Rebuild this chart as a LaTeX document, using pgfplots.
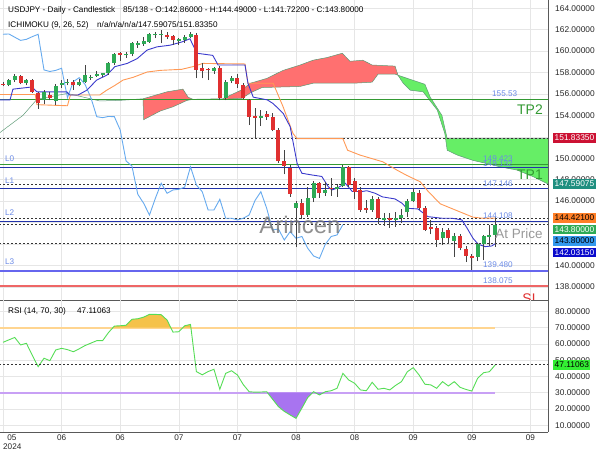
\documentclass[border=0pt]{standalone}
\usepackage{pgfplots}
\pgfplotsset{compat=1.18}
\usepackage{pgfplotstable}
\usepgfplotslibrary{fillbetween}
\usepackage{fontspec}
\setmainfont{Liberation Sans}
\newcommand{\fs}[1]{\fontsize{#1}{#1}\selectfont}
\pagecolor{white}

\definecolor{cgreen}{HTML}{2EAA55}
\definecolor{cred}{HTML}{E03030}
\definecolor{cwick}{HTML}{444444}
\definecolor{tenkan}{HTML}{3A3ACC}
\definecolor{kijun}{HTML}{FF9955}
\definecolor{chikou}{HTML}{66AAEE}
\definecolor{cloudred}{HTML}{FF7070}
\definecolor{cloudgreen}{HTML}{66EE66}
\definecolor{cloudedge}{HTML}{5E9A76}
\definecolor{tpgreen}{HTML}{339933}
\definecolor{lblue}{HTML}{2233AA}
\definecolor{lthree}{HTML}{6666EE}
\definecolor{slred}{HTML}{EE6666}
\definecolor{lbltext}{HTML}{6A8AE6}
\definecolor{gridc}{HTML}{E6E6E6}
\definecolor{rsigreen}{HTML}{55DD55}
\definecolor{obline}{HTML}{FFD590}
\definecolor{osline}{HTML}{C8A0F5}
\definecolor{obfill}{HTML}{F5C24A}
\definecolor{osfill}{HTML}{A874F0}
\definecolor{bA}{HTML}{CC1133}
\definecolor{bB}{HTML}{1F8F80}
\definecolor{bC}{HTML}{FF7F27}
\definecolor{bD}{HTML}{2EAA55}
\definecolor{bE}{HTML}{3399EE}
\definecolor{bF}{HTML}{0A0ACC}
\definecolor{bG}{HTML}{33EE33}

\pgfplotstableread{
i o h l c
1 156.85 157.4 156.7 157.3
2 157.3 157.9 157.1 157.7
4 157.0 157.4 156.8 157.3
7 155.4 156.4 155.1 156.2
9 155.3 156.9 155.0 156.7
10 156.85 157.3 156.6 157.0
11 157.0 157.4 156.8 157.1
13 156.85 157.4 156.7 157.15
14 157.15 158.7 157.0 157.8
15 157.47 157.8 157.3 157.6
16 157.7 158.1 157.6 157.9
17 157.77 158.0 157.6 157.93
18 157.93 159.0 157.8 158.87
19 158.87 159.8 158.7 159.7
21 159.6 159.9 159.4 159.7
22 159.7 160.85 159.5 160.73
23 160.6 160.9 160.3 160.73
24 160.7 161.3 160.5 160.9
25 160.88 161.7 160.8 161.57
26 161.5 161.75 161.2 161.57
27 161.55 162.0 160.73 161.6
30 160.9 161.2 160.6 161.1
31 161.04 161.5 160.8 161.35
32 161.35 161.8 161.2 161.57
36 158.15 158.5 157.9 158.4
38 155.65 157.3 155.4 157.15
39 157.2 157.7 157.0 157.52
44 153.79 154.5 153.0 153.9
50 145.4 146.0 141.7 145.8
52 144.7 147.3 144.5 146.26
53 146.26 147.9 145.9 147.67
55 146.8 147.8 146.5 147.04
57 147.1 147.6 146.4 147.3
58 147.4 149.4 147.3 149.2
63 145.17 146.5 145.0 146.17
65 144.24 144.9 143.7 144.4
67 144.24 145.0 143.6 144.4
68 144.4 145.3 144.0 144.7
69 144.95 146.2 144.5 146.05
70 146.05 147.2 145.9 146.88
75 142.53 143.5 141.9 143.15
77 142.28 143.0 140.8 142.7
81 140.8 142.1 140.4 141.97
82 141.97 142.8 140.5 142.7
83 142.65 143.8 141.8 142.84
84 142.86 144.49 141.722 143.8
}\bull

\pgfplotstableread{
i o h l c
0 156.95 157.1 156.7 156.85
3 157.65 157.8 156.9 157.0
5 157.3 157.4 156.1 156.2
6 156.05 156.2 154.6 155.15
8 155.9 156.2 155.4 155.6
12 157.15 157.3 156.4 156.85
20 159.8 159.95 159.1 159.64
28 161.5 161.8 161.1 161.3
29 161.4 161.5 160.6 161.0
33 161.5 161.7 157.45 158.24
34 158.4 158.87 157.45 158.1
35 158.3 158.4 157.3 158.2
37 158.4 158.6 155.4 155.65
40 157.47 157.9 156.6 156.9
41 156.84 157.0 155.5 155.65
42 155.44 155.5 153.1 153.88
43 153.95 154.67 151.9 153.79
45 154.1 154.4 153.6 153.88
46 153.83 154.2 152.5 152.64
47 152.64 152.8 149.6 149.75
48 149.75 150.77 148.5 149.28
49 149.07 149.4 146.4 146.64
51 145.8 146.2 144.3 144.7
54 147.67 147.8 146.3 146.73
56 147.15 148.2 146.5 147.1
59 149.2 149.3 147.3 147.5
60 147.9 148.2 146.2 146.88
61 147.04 147.3 145.0 145.17
62 145.33 146.1 144.9 145.17
64 146.17 146.4 143.9 144.4
66 144.4 144.9 143.5 144.24
71 146.73 147.0 145.2 145.33
72 145.33 145.5 143.2 143.3
73 143.6 144.2 142.9 143.4
74 143.47 143.7 141.75 142.37
76 143.3 143.5 142.0 142.53
78 142.7 142.9 141.4 141.6
79 141.5 141.8 140.3 140.88
80 140.9 141.1 139.6 140.65
}\bear

\pgfplotstableread{
i v
-0.5 152.4
0.7 152.9
3.4 154.0
5.8 155.5
11.0 156.05
16.5 155.35
20.0 155.4
23.9 155.55
28.0 156.2
30.7 156.45
31.6 155.7
32.4 155.5
37.5 155.55
40.8 156.4
42.2 157.0
45.0 157.45
47.8 158.2
50.7 158.7
52.9 159.15
55.3 159.4
57.9 159.8
59.2 159.05
61.4 159.15
63.0 158.7
66.9 158.6
67.4 157.75
68.3 157.0
69.5 156.35
71.7 156.2
72.4 155.7
74.1 154.5
75.4 152.3
75.8 150.75
77.5 150.3
80.2 149.8
82.6 149.5
84.8 149.2
87.7 148.9
90.4 148.3
93.0 147.6
}\senkouA

\pgfplotstableread{
i v
-0.5 155.5
23.9 155.5
24.0 153.6
26.8 154.4
29.0 154.8
31.4 155.4
32.4 155.5
37.5 155.5
40.8 155.6
42.2 156.1
44.2 156.6
50.7 156.7
52.9 157.0
59.7 157.0
63.0 157.1
64.0 157.85
66.9 157.85
67.4 157.75
72.0 156.9
72.9 155.7
74.9 154.0
75.8 151.83
93.0 151.83
}\senkouB

\pgfplotstableread{
i v
-0.5 155.45
1.2 155.45
1.7 156.45
4.9 156.65
5.8 156.2
10.9 156.2
11.4 155.9
12.8 155.9
14.3 156.35
16.0 157.3
17.7 157.75
19.1 158.55
21.2 158.85
22.9 159.3
24.6 160.1
26.3 160.4
28.5 160.55
30.5 160.85
31.9 161.15
33.1 159.8
35.8 159.6
36.7 158.7
41.3 158.7
41.8 157.0
42.7 155.7
45.1 155.45
46.1 155.1
47.8 154.2
49.0 152.95
50.2 149.5
51.0 148.6
52.7 148.44
54.4 148.3
55.5 147.35
56.1 147.04
57.0 147.2
58.4 147.67
59.6 146.9
61.3 146.9
62.1 146.97
63.5 146.73
64.7 146.4
66.9 146.2
68.1 145.8
68.9 145.33
70.8 145.27
72.5 144.55
74.9 144.4
76.6 144.4
78.3 144.25
79.2 143.47
80.2 142.53
81.1 141.97
82.3 141.75
83.4 141.81
84.0 142.03
}\tenkan

\pgfplotstableread{
i v
-0.5 155.95
5.5 155.95
5.8 155.0
11.0 154.9
11.5 155.9
16.5 155.9
17.7 156.35
19.1 156.8
20.5 157.3
22.2 157.55
24.6 158.05
26.8 158.2
30.5 158.3
32.4 158.55
34.1 158.85
41.3 158.8
41.8 157.0
46.1 157.0
47.8 154.8
49.5 152.3
50.2 151.83
58.0 151.83
58.8 150.75
60.9 150.3
64.8 149.67
67.2 148.9
68.9 148.4
71.2 147.8
72.4 147.0
74.6 145.75
77.5 145.1
80.2 144.5
81.9 144.4
84.0 144.42
}\kijun

\pgfplotstableread{
i v
0 161.57
1 161.6
2 161.3
3 161.0
4 161.1
5 161.35
6 161.57
7 158.24
8 158.1
9 158.2
10 158.4
11 155.65
12 157.15
13 157.52
14 156.9
15 155.65
16 153.88
17 153.79
18 153.9
19 153.88
20 152.64
21 149.75
22 149.28
23 146.64
24 145.8
25 144.7
26 146.26
27 147.67
28 146.73
29 147.04
30 147.1
31 147.3
32 149.2
33 147.5
34 146.88
35 145.17
36 145.17
37 146.17
38 144.4
39 144.4
40 144.24
41 144.4
42 144.7
43 146.05
44 146.88
45 145.33
46 143.3
47 143.4
48 142.37
49 143.15
50 142.53
51 142.7
52 141.6
53 140.88
54 140.65
55 141.97
56 142.7
57 142.84
58 143.8
}\chikou

\pgfplotstableread{
i r
0 61.0
1 62.5
2 64.0
3 59.4
4 60.4
5 53
6 46
7 51.2
8 49.7
9 56.3
10 57.3
11 56.5
12 55.2
13 57
14 59
15 60.5
16 62
17 62
18 67
19 71
20 71.2
21 71.5
22 75.2
23 75.5
24 76.5
25 78.2
26 78.2
27 78.0
28 74.7
29 67.3
30 67.5
31 71.2
32 72
33 43
34 41
35 43
36 44.4
37 32.1
38 41.9
39 43.5
40 40.9
41 35
42 30.6
43 30.3
44 30.4
45 30.6
46 26
47 21.4
48 18.5
49 16.3
50 14.2
51 20.5
52 27
53 30.6
54 28.6
55 30.6
56 31.2
57 32.7
58 41.9
59 37.8
60 35.8
61 31.7
62 31.2
63 36.4
64 32.1
65 32.7
66 31.7
67 34.5
68 36.8
69 42.9
70 45.4
71 40.9
72 35.2
73 34.8
74 32.7
75 36.8
76 34.1
77 36.8
78 33.3
79 32
80 31
81 38.9
82 42.3
83 42.9
84 47.11
}\rsi

\begin{document}
\begin{tikzpicture}

% ---------------- main price panel ----------------
\begin{axis}[
  at={(0,150bp)}, anchor=south west, scale only axis,
  width=548bp, height=300bp,
  xmin=-0.51, xmax=93.0, ymin=136.77, ymax=164.77,
  axis x line=bottom, axis y line=right,
  axis line style={-, draw=black!65, line width=0.8bp},
  xtick={0,10,...,90}, xticklabels={},
  ytick={138,140,...,164},
  yticklabels={138.00000,140.00000,{},{},146.00000,148.00000,150.00000,152.00000,154.00000,156.00000,158.00000,160.00000,162.00000,164.00000},
  yticklabel style={font=\fs{8.4}, anchor=west, inner sep=0pt, xshift=7bp, text=black!85},
  major tick length=0pt,
  grid=major, major grid style={draw=gridc, line width=0.6bp},
]
% cloud (coloured regions)
\addplot[name path=a2, draw=none, forget plot, restrict x to domain=23.85:67.45] table[x=i, y=v] {\senkouA};
\addplot[name path=b2, draw=none, forget plot, restrict x to domain=23.85:67.45] table[x=i, y=v] {\senkouB};
\addplot[fill=cloudred, draw=none, forget plot] fill between[of=a2 and b2];
\addplot[name path=a3, draw=none, forget plot, restrict x to domain=67.35:94] table[x=i, y=v] {\senkouA};
\addplot[name path=b3, draw=none, forget plot, restrict x to domain=67.35:94] table[x=i, y=v] {\senkouB};
\addplot[fill=cloudgreen, draw=none, forget plot] fill between[of=a3 and b3];
\addplot[draw=cloudedge, line width=0.5bp, forget plot] table[x=i, y=v] {\senkouA};
\addplot[draw=cloudedge, line width=0.5bp, forget plot] table[x=i, y=v] {\senkouB};

% level lines
\addplot[tpgreen, line width=0.9bp, forget plot] coordinates {(-0.6,155.53) (93.1,155.53)};
\addplot[tpgreen, line width=0.9bp, forget plot] coordinates {(-0.6,149.423) (93.1,149.423)};
\addplot[lblue, line width=0.9bp, forget plot] coordinates {(-0.6,149.132) (93.1,149.132)};
\addplot[lblue, line width=0.9bp, forget plot] coordinates {(-0.6,147.146) (93.1,147.146)};
\addplot[lblue, line width=0.9bp, forget plot] coordinates {(-0.6,144.108) (93.1,144.108)};
\addplot[lthree, line width=1.2bp, forget plot] coordinates {(-0.6,139.48) (93.1,139.48)};
\addplot[slred, line width=1.2bp, forget plot] coordinates {(-0.6,138.075) (93.1,138.075)};
% dotted price lines
\addplot[black!80, line width=0.8bp, dash pattern=on 2bp off 2bp, forget plot] coordinates {(-0.6,151.8335) (93.1,151.8335)};
\addplot[black!80, line width=0.8bp, dash pattern=on 2bp off 2bp, forget plot] coordinates {(-0.6,147.59075) (93.1,147.59075)};
\addplot[black!80, line width=0.8bp, dash pattern=on 2bp off 2bp, forget plot] coordinates {(-0.6,144.421) (93.1,144.421)};
\addplot[black!80, line width=0.8bp, dash pattern=on 2bp off 2bp, forget plot] coordinates {(-0.6,143.8) (93.1,143.8)};
\addplot[black!80, line width=0.8bp, dash pattern=on 2bp off 2bp, forget plot] coordinates {(-0.6,142.0315) (93.1,142.0315)};

% ichimoku lines
\addplot[chikou, line width=0.9bp, forget plot] table[x=i, y=v] {\chikou};
\addplot[kijun, line width=0.9bp, forget plot] table[x=i, y=v] {\kijun};
\addplot[tenkan, line width=0.9bp, forget plot] table[x=i, y=v] {\tenkan};

% candles: wicks (low to high)
\addplot[-, draw=cwick, line width=0.8bp, forget plot,
  quiver={u=0, v=\thisrow{h}-\thisrow{l}}] table[x=i, y=l] {\bull};
\addplot[-, draw=cwick, line width=0.8bp, forget plot,
  quiver={u=0, v=\thisrow{h}-\thisrow{l}}] table[x=i, y=l] {\bear};
% candles: bodies (open to close)
\addplot[-, draw=cgreen, line width=4bp, forget plot,
  quiver={u=0, v={max(\thisrow{c}-\thisrow{o},0.08)}}] table[x=i, y=o] {\bull};
\addplot[-, draw=cred, line width=4bp, forget plot,
  quiver={u=0, v={max(\thisrow{o}-\thisrow{c},0.08)}}] table[x=i, y=c] {\bear};
\end{axis}

% texts in the price panel
\node[anchor=west, font=\fs{8.2}, inner sep=0pt] at (8bp,440bp) {USDJPY - Daily - Candlestick};
\node[anchor=west, font=\fs{8.2}, inner sep=0pt] at (123bp,440bp) {85/138 - O:142.86000 - H:144.49000 - L:141.72200 - C:143.80000};
\node[anchor=west, font=\fs{8.2}, inner sep=0pt] at (8bp,425bp) {ICHIMOKU (9, 26, 52)};
\node[anchor=west, font=\fs{8.2}, inner sep=0pt] at (97bp,425bp) {n/a/n/a/n/a/147.59075/151.83350};

\node[font=\fs{24}, text=black!55, opacity=0.8, inner sep=0pt] at (300bp,225bp) {Arincen};
\node[font=\fs{13.5}, text=black!40, inner sep=0pt] at (519bp,216.5bp) {At Price};

\node[anchor=west, font=\fs{8.2}, text=lbltext, inner sep=0pt] at (492bp,356bp) {155.53};
\node[anchor=west, font=\fs{8.2}, text=lbltext, inner sep=0pt] at (483bp,291.5bp) {149.423};
\node[anchor=west, font=\fs{8.2}, text=lbltext, inner sep=0pt] at (483bp,286.5bp) {149.132};
\node[anchor=west, font=\fs{8.2}, text=lbltext, inner sep=0pt] at (483bp,266bp) {147.146};
\node[anchor=west, font=\fs{8.2}, text=lbltext, inner sep=0pt] at (483bp,234bp) {144.108};
\node[anchor=west, font=\fs{8.2}, text=lbltext, inner sep=0pt] at (483bp,185bp) {139.480};
\node[anchor=west, font=\fs{8.2}, text=lbltext, inner sep=0pt] at (483bp,169bp) {138.075};

\node[anchor=west, font=\fs{8.2}, text=lbltext, inner sep=0pt] at (5bp,291bp) {L0};
\node[anchor=west, font=\fs{8.2}, text=lbltext, inner sep=0pt] at (5bp,269bp) {L1};
\node[anchor=west, font=\fs{8.2}, text=lbltext, inner sep=0pt] at (5bp,237bp) {L2};
\node[anchor=west, font=\fs{8.2}, text=lbltext, inner sep=0pt] at (5bp,188bp) {L3};

\node[font=\fs{14}, text=tpgreen, inner sep=0pt] at (530bp,340bp) {TP2};
\node[font=\fs{14}, text=tpgreen, inner sep=0pt] at (530bp,275bp) {TP1};
\begin{scope}
\clip (505bp,150.4bp) rectangle (547bp,170bp);
\node[font=\fs{14}, text=cred, inner sep=0pt] at (531bp,151bp) {SL};
\end{scope}

% ---------------- RSI panel ----------------
\begin{axis}[
  at={(0,18bp)}, anchor=south west, scale only axis,
  width=548bp, height=132bp,
  xmin=-0.51, xmax=93.0, ymin=5.8, ymax=87.05,
  axis x line=bottom, axis y line=right,
  axis line style={-, draw=black!65, line width=0.8bp},
  xtick={0,10,...,90}, xticklabels={{},06,06,07,07,08,08,09,09,09},
  xticklabel style={font=\fs{8.2}, inner sep=0pt, yshift=-2.5bp, text=black!85},
  ytick={10,20,...,80},
  yticklabels={10.00000,20.00000,30.00000,40.00000,50.00000,60.00000,70.00000,80.00000},
  yticklabel style={font=\fs{8.4}, anchor=west, inner sep=0pt, xshift=7bp, text=black!85},
  major tick length=0pt,
  grid=major, major grid style={draw=gridc, line width=0.6bp},
]
\addplot[obline, line width=1.8bp, forget plot] coordinates {(-0.6,70) (84,70)};
\addplot[osline, line width=1.8bp, forget plot] coordinates {(-0.6,30) (84,30)};
% overbought / oversold areas (RSI beyond 70 / 30)
\addplot[fill=obfill, draw=none, forget plot] coordinates {(18.75,70) (19,71) (20,71.2) (21,71.5) (22,75.2) (23,75.5) (24,76.5) (25,78.2) (26,78.2) (27,78.0) (28,74.7) (28.64,70)} -- cycle;
\addplot[fill=obfill, draw=none, forget plot] coordinates {(30.68,70) (31,71.2) (32,72) (32.07,70)} -- cycle;
\addplot[fill=osfill, draw=none, forget plot] coordinates {(45.13,30) (46,26) (47,21.4) (48,18.5) (49,16.3) (50,14.2) (51,20.5) (52,27) (52.83,30)} -- cycle;
\addplot[fill=osfill, draw=none, forget plot] coordinates {(53.3,30) (54,28.6) (54.7,30)} -- cycle;
\addplot[rsigreen, line width=0.9bp, forget plot] table[x=i, y=r] {\rsi};
\addplot[black!80, line width=0.8bp, dash pattern=on 2bp off 2bp, forget plot] coordinates {(-0.6,47.11063) (93.1,47.11063)};
\end{axis}

\node[anchor=west, font=\fs{8.2}, inner sep=0pt] at (8bp,139bp) {RSI (14, 70, 30)};
\node[anchor=west, font=\fs{8.2}, inner sep=0pt] at (77bp,139bp) {47.11063};
\node[font=\fs{8.2}, text=black!85, inner sep=0pt] at (12bp,12.5bp) {05};
\node[anchor=west, font=\fs{8.2}, text=black!85, inner sep=0pt] at (3bp,3.5bp) {2024};

% right-side value boxes
\node[anchor=west, fill=bA, text=white, font=\fs{8.4}, inner xsep=1.5bp, inner ysep=2bp] at (553bp,312bp) {151.83350};
\node[anchor=west, fill=bB, text=white, font=\fs{8.4}, inner xsep=1.5bp, inner ysep=2bp] at (553bp,266bp) {147.59075};
\node[anchor=west, fill=bC, text=black, font=\fs{8.4}, inner xsep=1.5bp, inner ysep=2bp] at (553bp,232bp) {144.42100};
\node[anchor=west, fill=bD, text=white, font=\fs{8.4}, inner xsep=1.5bp, inner ysep=2bp] at (553bp,220.5bp) {143.80000};
\node[anchor=west, fill=bE, text=black, font=\fs{8.4}, inner xsep=1.5bp, inner ysep=2bp] at (553bp,209bp) {143.80000};
\node[anchor=west, fill=bF, text=white, font=\fs{8.4}, inner xsep=1.5bp, inner ysep=2bp] at (553bp,197.5bp) {142.03150};
\node[anchor=west, fill=bG, text=black, font=\fs{8.4}, inner xsep=1.5bp, inner ysep=2bp] at (553bp,85bp) {47.11063};

\pgfresetboundingbox
\path[use as bounding box] (0,0) rectangle (600bp,450bp);
\end{tikzpicture}
\end{document}
